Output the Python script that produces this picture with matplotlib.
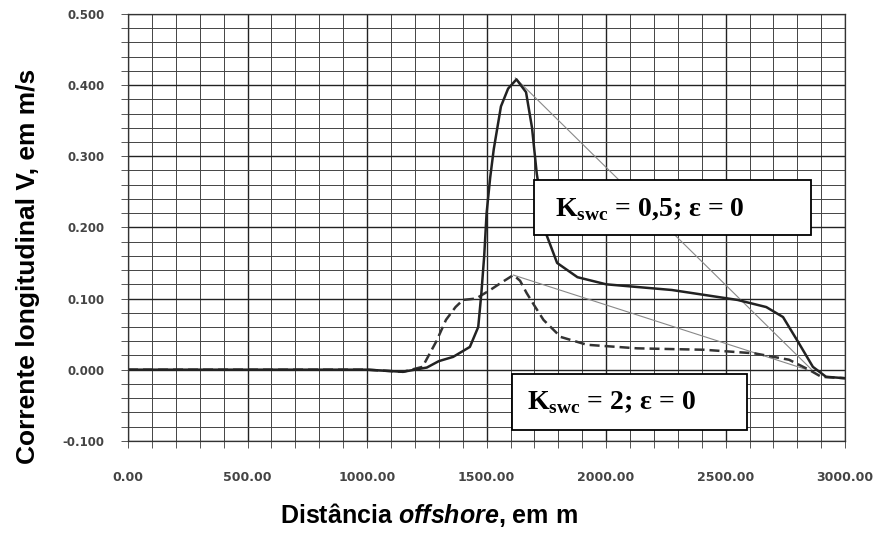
import matplotlib

matplotlib.use("Agg")
from matplotlib import pyplot as plt
from matplotlib.patches import Rectangle
from matplotlib.ticker import MultipleLocator, FormatStrFormatter

plt.rcParams["mathtext.fontset"] = "custom"
plt.rcParams["mathtext.rm"] = "Liberation Serif:bold"
plt.rcParams["mathtext.it"] = "Liberation Sans:bold:italic"

# Kswc = 0,5 (linha cheia)
dist_05 = [0, 500, 1000, 1150, 1250, 1300, 1360, 1430, 1465, 1478, 1490, 1500, 1515,
           1530, 1560, 1590, 1625, 1665, 1690, 1710, 1750, 1795, 1880, 2000, 2275,
           2550, 2670, 2740, 2805, 2865, 2920, 3000]
vel_05 = [0.0, 0.0, 0.0, -0.003, 0.003, 0.012, 0.018, 0.032, 0.06, 0.107, 0.16, 0.22, 0.27,
          0.31, 0.37, 0.395, 0.408, 0.39, 0.34, 0.275, 0.19, 0.15, 0.13, 0.12, 0.112,
          0.098, 0.088, 0.074, 0.038, 0.004, -0.01, -0.012]

# Kswc = 2 (tracejada)
dist_2 = [0, 500, 1000, 1150, 1232, 1290, 1330, 1370, 1401, 1456, 1515, 1560, 1612, 1640,
          1667, 1700, 1738, 1810, 1920, 2130, 2410, 2620, 2765, 2848, 2900, 3000]
vel_2 = [0.0, 0.0, 0.0, -0.003, 0.004, 0.04, 0.07, 0.088, 0.098, 0.10, 0.112, 0.122, 0.133,
         0.125, 0.108, 0.09, 0.07, 0.046, 0.035, 0.03, 0.028, 0.023, 0.014, 0.0, -0.01, -0.012]

# linhas finas (picos -> zero)
thin_a_x = [1620, 2860]
thin_a_y = [0.41, 0.0]
thin_b_x = [1612, 2840]
thin_b_y = [0.133, 0.0]

label_05 = r"K$_{\mathrm{swc}}$ = 0,5; ε = 0"
label_2 = r"K$_{\mathrm{swc}}$ = 2; ε = 0"

fig = plt.figure(figsize=(8.74, 5.35), dpi=100)
ax = fig.add_axes([0.1465, 0.176, 0.8205, 0.798])

ax.set_xlim(0, 3000)
ax.set_ylim(-0.1, 0.5)

ax.xaxis.set_major_locator(MultipleLocator(500))
ax.xaxis.set_minor_locator(MultipleLocator(100))
ax.yaxis.set_major_locator(MultipleLocator(0.1))
ax.yaxis.set_minor_locator(MultipleLocator(0.02))
ax.xaxis.set_major_formatter(FormatStrFormatter("%.2f"))
ax.yaxis.set_major_formatter(FormatStrFormatter("%.3f"))

ax.grid(which="major", color="#222222", lw=1.0)
ax.grid(which="minor", color="#444444", lw=0.7)
ax.set_axisbelow(True)
for s in ax.spines.values():
    s.set_color("#333333")
    s.set_linewidth(0.9)

ax.tick_params(axis="both", which="both", length=5, color="#555555", width=0.7)
ax.tick_params(axis="x", which="major", pad=17, labelsize=9, labelcolor="#444444")
ax.tick_params(axis="y", which="major", pad=12, labelsize=8.5, labelcolor="#444444")
for lab in ax.get_xticklabels() + ax.get_yticklabels():
    lab.set_fontweight("bold")

ax.plot(thin_a_x, thin_a_y, color="#888888", lw=0.8)
ax.plot(thin_b_x, thin_b_y, color="#888888", lw=0.8)
ax.plot(dist_2, vel_2, color="#333333", lw=1.8, ls=(0, (4, 2)))
ax.plot(dist_05, vel_05, color="#222222", lw=1.8)

ax.add_patch(Rectangle((1700, 0.189), 1157, 0.077, facecolor="white",
                       edgecolor="black", lw=1.3, zorder=5))
ax.text(1785, 0.2265, label_05, fontsize=20, family="Liberation Serif",
        fontweight="bold", va="center", ha="left", zorder=6)
ax.add_patch(Rectangle((1608, -0.085), 983, 0.079, facecolor="white",
                       edgecolor="black", lw=1.3, zorder=5))
ax.text(1668, -0.046, label_2, fontsize=20, family="Liberation Serif",
        fontweight="bold", va="center", ha="left", zorder=6)

fig.text(28 / 874, 1 - 266 / 535, "Corrente longitudinal V, em m/s", rotation=90,
         ha="center", va="center", fontsize=19, fontweight="bold", family="Liberation Sans")
fig.text(429 / 874, 1 - 515 / 535, r"Distância $\mathit{offshore}$, em m",
         ha="center", va="center", fontsize=18, fontweight="bold", family="Liberation Sans")

fig.savefig("out.png", dpi=100, facecolor="white")
